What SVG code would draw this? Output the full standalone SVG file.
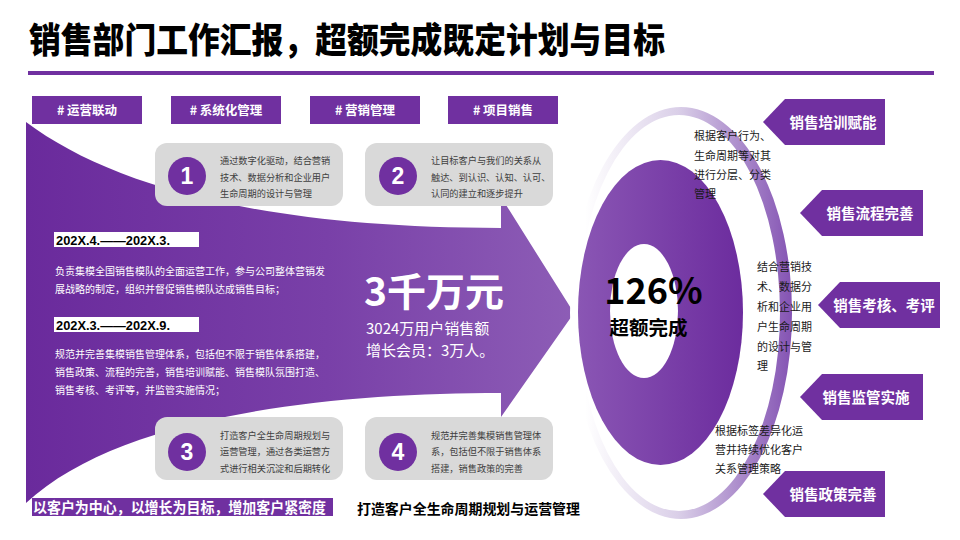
<svg xmlns="http://www.w3.org/2000/svg" width="960" height="540" viewBox="0 0 960 540">
<defs>
<style>
text { font-family: 'Noto Sans CJK SC', 'Noto Sans', sans-serif; }
.tag { fill: #7030a0; }
.tagt { fill: #fff; font-size: 12.5px; font-weight: 700; text-anchor: middle; }
.box { fill: #d9d9d9; }
.num { fill: #7030a0; }
.numt { fill: #fff; font-family: 'Liberation Sans', sans-serif; font-weight: 700; font-size: 23px; text-anchor: middle; }
.bt { fill: #404040; font-size: 9.2px; }
.pt { fill: #fff; font-size: 10px; }
.rt { fill: #1a1a1a; font-size: 11px; }
.lab { fill: #7030a0; }
.labt { fill: #fff; font-size: 14.5px; font-weight: 700; text-anchor: middle; }
.date { fill: #000; font-family: 'Liberation Sans', sans-serif; font-weight: 700; font-size: 13px; }
</style>
<linearGradient id="gArrow" gradientUnits="userSpaceOnUse" x1="26" y1="0" x2="574" y2="0">
<stop offset="0" stop-color="#6a2a9c"/>
<stop offset="0.55" stop-color="#7940a8"/>
<stop offset="1" stop-color="#8d5db6"/>
</linearGradient>
<linearGradient id="gEll" gradientUnits="userSpaceOnUse" x1="578" y1="0" x2="743" y2="0">
<stop offset="0" stop-color="#8a56b4"/>
<stop offset="1" stop-color="#6c2c9e"/>
</linearGradient>
<linearGradient id="gRing" gradientUnits="userSpaceOnUse" x1="585" y1="0" x2="792" y2="0">
<stop offset="0" stop-color="#ffffff"/>
<stop offset="0.45" stop-color="#dacfe8"/>
<stop offset="1" stop-color="#8453b3"/>
</linearGradient>
</defs>

<rect width="960" height="540" fill="#ffffff"/>

<g id="title">
<text x="29" y="53" font-size="35" font-weight="900" fill="#000" textLength="636" lengthAdjust="spacingAndGlyphs">销售部门工作汇报，超额完成既定计划与目标</text>
<rect x="28" y="71" width="906" height="4" fill="#7030a0"/>
</g>

<g id="tags">
<g id="tag1"><rect class="tag" x="32" y="96" width="110" height="28"/><text class="tagt" x="87" y="114.5"># 运营联动</text></g>
<g id="tag2"><rect class="tag" x="171" y="96" width="110" height="28"/><text class="tagt" x="226" y="114.5"># 系统化管理</text></g>
<g id="tag3"><rect class="tag" x="310" y="96" width="110" height="28"/><text class="tagt" x="365" y="114.5"># 营销管理</text></g>
<g id="tag4"><rect class="tag" x="448" y="96" width="110" height="28"/><text class="tagt" x="503" y="114.5"># 项目销售</text></g>
</g>

<g id="arrow">
<path d="M26,122 C110,185 260,228 501,228 L501,197 L574,313 L501,417 L501,393 C330,393 120,415 26,503 Z" fill="url(#gArrow)"/>
<g id="date1">
<rect x="54" y="232" width="145" height="15" fill="#fff"/>
<text class="date" x="56" y="244.5" textLength="114" lengthAdjust="spacingAndGlyphs">202X.4.——202X.3.</text>
</g>
<text class="pt" x="55" y="275">负责集模全国销售模队的全面运营工作，参与公司整体营销发</text>
<text class="pt" x="55" y="293">展战略的制定，组织并督促销售模队达成销售目标；</text>
<g id="date2">
<rect x="54" y="317" width="145" height="15" fill="#fff"/>
<text class="date" x="56" y="329.5" textLength="114" lengthAdjust="spacingAndGlyphs">202X.3.——202X.9.</text>
</g>
<text class="pt" x="55" y="358">规范并完善集模销售管理体系，包括但不限于销售体系搭建，</text>
<text class="pt" x="55" y="376">销售政策、流程的完善，销售培训赋能、销售模队氛围打造、</text>
<text class="pt" x="55" y="394">销售考核、考评等，并监管实施情况；</text>
<text x="364" y="306" font-size="39" font-weight="700" fill="#fff">3千万元</text>
<text x="366" y="334" font-size="15" fill="#fff">3024万用户销售额</text>
<text x="366" y="355.5" font-size="15" fill="#fff">增长会员：3万人。</text>
</g>

<g id="step1">
<rect class="box" x="155" y="143" width="188" height="63" rx="12"/>
<circle class="num" cx="187" cy="176" r="19"/>
<text class="numt" x="187" y="184">1</text>
<text class="bt" x="220" y="163.5">通过数字化驱动，结合营销</text>
<text class="bt" x="220" y="180.5">技术、数据分析和企业用户</text>
<text class="bt" x="220" y="197">生命周期的设计与管理</text>
</g>
<g id="step2">
<rect class="box" x="365" y="143" width="188" height="63" rx="12"/>
<circle class="num" cx="398" cy="176" r="19"/>
<text class="numt" x="398" y="184">2</text>
<text class="bt" x="431" y="163.5">让目标客户与我们的关系从</text>
<text class="bt" x="431" y="180.5">触达、到认识、认知、认可、</text>
<text class="bt" x="431" y="197">认同的建立和逐步提升</text>
</g>
<g id="step3">
<rect class="box" x="155" y="417" width="188" height="63" rx="12"/>
<circle class="num" cx="187" cy="452" r="19"/>
<text class="numt" x="187" y="460">3</text>
<text class="bt" x="220" y="438.5">打造客户全生命周期规划与</text>
<text class="bt" x="220" y="455">运营管理，通过各类运营方</text>
<text class="bt" x="220" y="471.5">式进行相关沉淀和后期转化</text>
</g>
<g id="step4">
<rect class="box" x="365" y="417" width="188" height="63" rx="12"/>
<circle class="num" cx="398" cy="452" r="19"/>
<text class="numt" x="398" y="460">4</text>
<text class="bt" x="431" y="438.5">规范并完善集模销售管理体</text>
<text class="bt" x="431" y="455">系，包括但不限于销售体系</text>
<text class="bt" x="431" y="471.5">搭建，销售政策的完善</text>
</g>

<g id="slogan">
<rect x="32" y="498" width="301" height="18" fill="#7030a0"/>
<text x="33" y="513" font-size="14.5" font-weight="700" fill="#fff" textLength="293" lengthAdjust="spacingAndGlyphs">以客户为中心，以增长为目标，增加客户紧密度</text>
</g>
<g id="subtitle">
<text x="357" y="514" font-size="14" font-weight="700" fill="#000" textLength="223" lengthAdjust="spacingAndGlyphs">打造客户全生命周期规划与运营管理</text>
</g>

<g id="target">
<path fill="url(#gRing)" fill-rule="evenodd" d="M570,313 a111,206 0 1,0 222,0 a111,206 0 1,0 -222,0 Z M578,313 a101,198 0 1,0 202,0 a101,198 0 1,0 -202,0 Z"/>
<ellipse cx="660.5" cy="312.5" rx="82.5" ry="152.5" fill="url(#gEll)"/>
<ellipse cx="644" cy="311" rx="34" ry="67" fill="#fff"/>
<text x="653.5" y="304" font-family="'Liberation Sans', sans-serif" font-size="36" font-weight="700" fill="#000" text-anchor="middle">126%</text>
<text x="648.5" y="335" font-size="19.5" font-weight="700" fill="#000" text-anchor="middle">超额完成</text>
</g>

<g id="notes">
<text class="rt" x="694" y="140">根据客户行为、</text>
<text class="rt" x="694" y="160">生命周期等对其</text>
<text class="rt" x="694" y="179">进行分层、分类</text>
<text class="rt" x="694" y="198">管理</text>
<text class="rt" x="757" y="271">结合营销技</text>
<text class="rt" x="757" y="291">术、数据分</text>
<text class="rt" x="757" y="311">析和企业用</text>
<text class="rt" x="757" y="331">户生命周期</text>
<text class="rt" x="757" y="351">的设计与管</text>
<text class="rt" x="757" y="370">理</text>
<text class="rt" x="715" y="435">根据标签差异化运</text>
<text class="rt" x="715" y="454">营井持续优化客户</text>
<text class="rt" x="715" y="473">关系管理策略</text>
</g>

<g id="label1"><path class="lab" d="M763,122 L785,99 L885,99 L885,145 L785,145 Z"/><text class="labt" x="833" y="127.5">销售培训赋能</text></g>
<g id="label2"><path class="lab" d="M800,213 L822,190 L923,190 L923,236 L822,236 Z"/><text class="labt" x="870" y="218.5">销售流程完善</text></g>
<g id="label3"><path class="lab" d="M818,305 L840,282 L940,282 L940,328 L840,328 Z"/><text class="labt" x="884" y="310.5">销售考核、考评</text></g>
<g id="label4"><path class="lab" d="M800,397 L822,374 L923,374 L923,420 L822,420 Z"/><text class="labt" x="866" y="402.5">销售监管实施</text></g>
<g id="label5"><path class="lab" d="M763,494 L785,471 L885,471 L885,517 L785,517 Z"/><text class="labt" x="833" y="499.5">销售政策完善</text></g>
</svg>
